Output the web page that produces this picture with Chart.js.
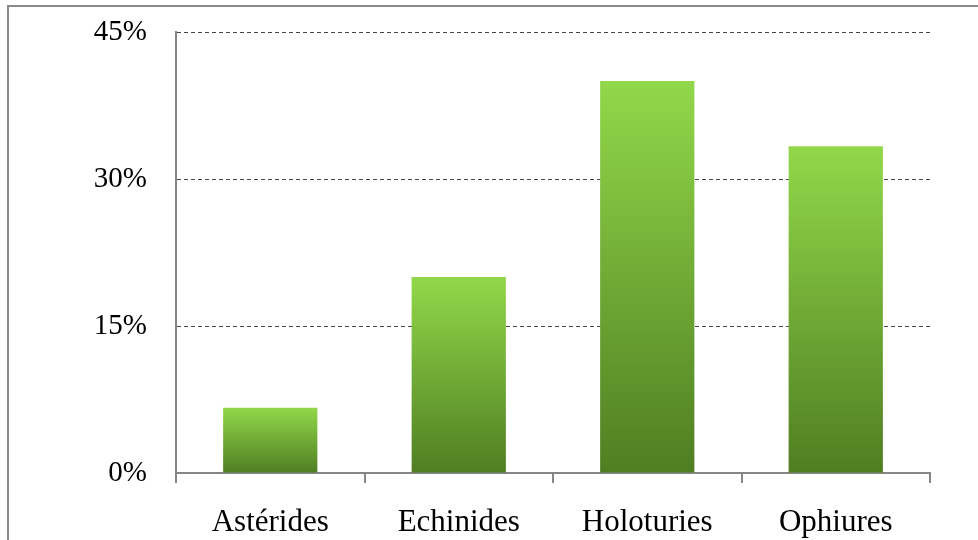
<!DOCTYPE html>
<html>
<head>
<meta charset="utf-8">
<script src="https://cdn.jsdelivr.net/npm/chart.js@4"></script>
<style>
  html, body { margin: 0; padding: 0; background: #ffffff; }
  #wrap { position: relative; width: 978px; height: 540px; overflow: hidden; }
  #frame { position: absolute; left: 7px; top: 5px; width: 990px; height: 560px; border: 2px solid #8a8a8a; box-sizing: border-box; }
  canvas { position: absolute; left: 0; top: 0; }
</style>
</head>
<body>
<div id="wrap">
  <div id="frame"></div>
  <canvas id="c" width="978" height="540"></canvas>
</div>
<script>
const categories = ['Astérides', 'Echinides', 'Holoturies', 'Ophiures'];
const values = [6.67, 20.0, 40.0, 33.33];
const yTicks = [0, 15, 30, 45];

const topColor = '#92d84a';
const bottomColor = '#4f7e22';
const axisColor = '#868686';

function barGradient(ctx) {
  const chart = ctx.chart;
  const area = chart.chartArea;
  if (!area || ctx.type !== 'data') return topColor;
  const ys = chart.scales.y;
  const v = ctx.raw;
  const yTop = ys.getPixelForValue(v);
  const yBot = ys.getPixelForValue(0);
  if (!isFinite(yTop) || !isFinite(yBot) || yTop === yBot) return topColor;
  const g = chart.ctx.createLinearGradient(0, yTop, 0, yBot);
  g.addColorStop(0, topColor);
  g.addColorStop(1, bottomColor);
  return g;
}

new Chart(document.getElementById('c'), {
  type: 'bar',
  data: {
    labels: categories,
    datasets: [{
      data: values,
      backgroundColor: barGradient,
      borderWidth: 0,
      categoryPercentage: 0.5,
      barPercentage: 1.0
    }]
  },
  options: {
    responsive: false,
    animation: false,
    devicePixelRatio: 1,
    layout: { padding: { top: 32, right: 48, left: 0, bottom: 0 } },
    plugins: { legend: { display: false }, tooltip: { enabled: false } },
    scales: {
      x: {
        afterFit: (s) => { s.height = 67; s.paddingLeft = 0; s.paddingRight = 0; },
        grid: {
          offset: true,
          drawOnChartArea: false,
          drawTicks: true,
          tickLength: 10,
          color: axisColor,
          lineWidth: 2
        },
        border: { display: true, color: axisColor, width: 2 },
        ticks: {
          padding: 21,
          color: '#000000',
          font: { family: '"Liberation Serif", "Times New Roman", serif', size: 31 }
        }
      },
      y: {
        min: 0,
        max: 45,
        afterFit: (s) => { s.width = 176; s.paddingTop = 0; s.paddingBottom = 0; },
        afterBuildTicks: (s) => { s.ticks = yTicks.map(v => ({ value: v })); },
        grid: {
          drawTicks: false,
          color: (ctx) => (ctx.tick && ctx.tick.value === 0) ? 'rgba(0,0,0,0)' : '#444444',
          lineWidth: 1
        },
        border: { display: true, color: axisColor, width: 2, dash: [4, 3] },
        ticks: {
          padding: 29,
          color: '#000000',
          font: { family: '"Liberation Serif", "Times New Roman", serif', size: 29 },
          callback: (v) => v + '%'
        }
      }
    }
  }
});
</script>
</body>
</html>
